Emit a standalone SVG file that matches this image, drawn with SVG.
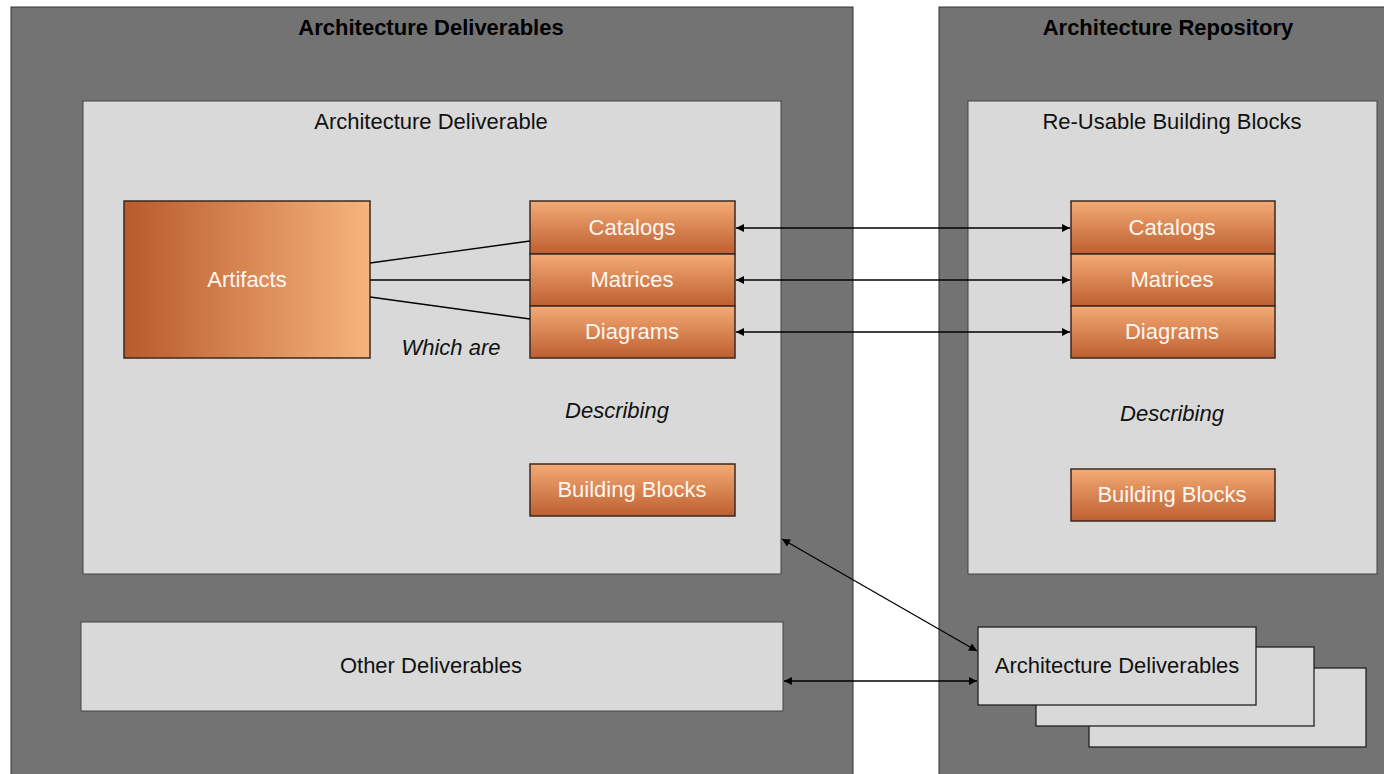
<svg xmlns="http://www.w3.org/2000/svg" width="1384" height="774" viewBox="0 0 1384 774">
<defs>
<linearGradient id="gh" x1="0" y1="0" x2="1" y2="0"><stop offset="0" stop-color="#b95a2c"/><stop offset="1" stop-color="#f7b47c"/></linearGradient>
<linearGradient id="gv" x1="0" y1="0" x2="0" y2="1"><stop offset="0" stop-color="#f4ab75"/><stop offset="1" stop-color="#bd5f31"/></linearGradient>
<marker id="ah" viewBox="0 0 10 10" refX="10" refY="5" markerWidth="10" markerHeight="8" markerUnits="userSpaceOnUse" orient="auto-start-reverse"><path d="M0,0 L10,5 L0,10 z" fill="#000"/></marker>
<style>
.outer{fill:#737373;stroke:#333;stroke-width:1}
.inner{fill:#d9d9d9;stroke:#444;stroke-width:1}
.or{fill:url(#gv);stroke:#3a2a20;stroke-width:1.5}
.t{font-family:"Liberation Sans",Arial,sans-serif;font-size:22px;text-anchor:middle}
.w{fill:#fff6ee}
.b{font-weight:bold;fill:#000}
.i{font-style:italic;fill:#111}
.k{fill:#111}
.c{stroke:#000;stroke-width:1.3;fill:none}
.ca{stroke:#000;stroke-width:1.3;fill:none;marker-start:url(#ah);marker-end:url(#ah)}
</style>
</defs>
<rect width="1384" height="774" fill="#fff"/>
<g id="panel-deliverables"><rect class="outer" x="11" y="7" width="842" height="780"/><text class="t b" x="431" y="35">Architecture Deliverables</text></g>
<g id="panel-repository"><rect class="outer" x="939" y="7" width="460" height="780"/><text class="t b" x="1168" y="35">Architecture Repository</text></g>
<g id="deliverable"><rect class="inner" x="83" y="101" width="698" height="473"/><text class="t k" x="431" y="129">Architecture Deliverable</text></g>
<g id="reusable"><rect class="inner" x="968" y="101" width="409" height="473"/><text class="t k" x="1172" y="129">Re-Usable Building Blocks</text></g>
<g id="artifacts"><rect x="124" y="201" width="246" height="157" fill="url(#gh)" stroke="#3a2a20" stroke-width="1.5"/><text class="t w" x="247" y="287">Artifacts</text></g>
<g id="catalogs-l"><rect class="or" x="530" y="201" width="205" height="53"/><text class="t w" x="632" y="235">Catalogs</text></g>
<g id="matrices-l"><rect class="or" x="530" y="254" width="205" height="52"/><text class="t w" x="632" y="287">Matrices</text></g>
<g id="diagrams-l"><rect class="or" x="530" y="306" width="205" height="52"/><text class="t w" x="632" y="339">Diagrams</text></g>
<g id="bb-l"><rect class="or" x="530" y="464" width="205" height="52"/><text class="t w" x="632" y="497">Building Blocks</text></g>
<g id="catalogs-r"><rect class="or" x="1071" y="201" width="204" height="53"/><text class="t w" x="1172" y="235">Catalogs</text></g>
<g id="matrices-r"><rect class="or" x="1071" y="254" width="204" height="52"/><text class="t w" x="1172" y="287">Matrices</text></g>
<g id="diagrams-r"><rect class="or" x="1071" y="306" width="204" height="52"/><text class="t w" x="1172" y="339">Diagrams</text></g>
<g id="bb-r"><rect class="or" x="1071" y="469" width="204" height="52"/><text class="t w" x="1172" y="502">Building Blocks</text></g>
<g id="other"><rect class="inner" x="81" y="622" width="702" height="89"/><text class="t k" x="431" y="673">Other Deliverables</text></g>
<g id="arch-stack">
<rect x="1089" y="668" width="277" height="79" fill="#d9d9d9" stroke="#222" stroke-width="1.3"/>
<rect x="1036" y="647" width="278" height="79" fill="#d9d9d9" stroke="#222" stroke-width="1.3"/>
<rect x="978" y="627" width="278" height="78" fill="#d9d9d9" stroke="#222" stroke-width="1.3"/>
<text class="t k" x="1117" y="673">Architecture Deliverables</text>
</g>
<g id="labels">
<text class="t i" x="451" y="355">Which are</text>
<text class="t i" x="617" y="418">Describing</text>
<text class="t i" x="1172" y="421">Describing</text>
</g>
<g id="connectors">
<line class="c" x1="370" y1="263" x2="530" y2="241"/>
<line class="c" x1="370" y1="280" x2="530" y2="280"/>
<line class="c" x1="370" y1="297" x2="530" y2="319"/>
<line class="ca" x1="736" y1="228" x2="1070" y2="228"/>
<line class="ca" x1="736" y1="280" x2="1070" y2="280"/>
<line class="ca" x1="736" y1="332" x2="1070" y2="332"/>
<line class="ca" x1="782" y1="539" x2="977" y2="651"/>
<line class="ca" x1="784" y1="681" x2="977" y2="681"/>
</g>
</svg>
